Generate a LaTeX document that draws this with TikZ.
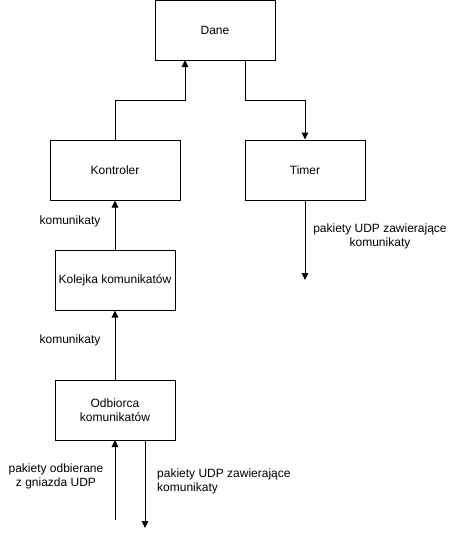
\documentclass[tikz,border=0pt]{standalone}
\usepackage{fontspec}
\setmainfont{Liberation Sans}
\usetikzlibrary{arrows.meta}
\begin{document}
\begin{tikzpicture}[x=1pt,y=-1pt,
  box/.style={draw,line width=1pt,minimum width=120pt,minimum height=60pt,inner sep=0pt,align=center,font=\fontsize{12}{14}\selectfont},
  lbl/.style={font=\fontsize{12}{14}\selectfont,inner sep=1pt},
  arr/.style={line width=1pt,-{Triangle[length=7pt,width=6.5pt]}}]
\useasboundingbox (0,0) rectangle (456,539);
\node[box] (dane) at (215,30) {Dane};
\node[box,minimum width=130pt] (kon) at (115,170) {Kontroler};
\node[box] (tim) at (305,170) {Timer};
\node[box] (kol) at (115,280) {Kolejka komunikatów};
\node[box] (odb) at (115,410) {Odbiorca\\komunikatów};
\coordinate (timend) at (305,280);
\coordinate (inbeg) at (115,520);
\coordinate (outend) at (145,528);
\draw[arr] (kon.north) |- (185,100) -- (185,60);
\draw[arr] (245,60) |- (305,100) -- (tim.north);
\draw[arr] (tim.south) -- (timend);
\draw[arr] (kol.north) -- (kon.south);
\draw[arr] (odb.north) -- (kol.south);
\draw[arr] (inbeg) -- (115,440);
\draw[arr] (145,440) -- (outend);
\node[lbl,align=center] (l1) at (380,236) {pakiety UDP zawierające\\komunikaty};
\node[lbl] (l2) at (70,221) {komunikaty};
\node[lbl] (l3) at (70,340) {komunikaty};
\node[lbl,align=center] (l4) at (56,476) {pakiety odbierane\\z gniazda UDP};
\node[lbl,align=left,anchor=west] (l5) at (156,481) {pakiety UDP zawierające\\komunikaty};
\end{tikzpicture}
\end{document}
